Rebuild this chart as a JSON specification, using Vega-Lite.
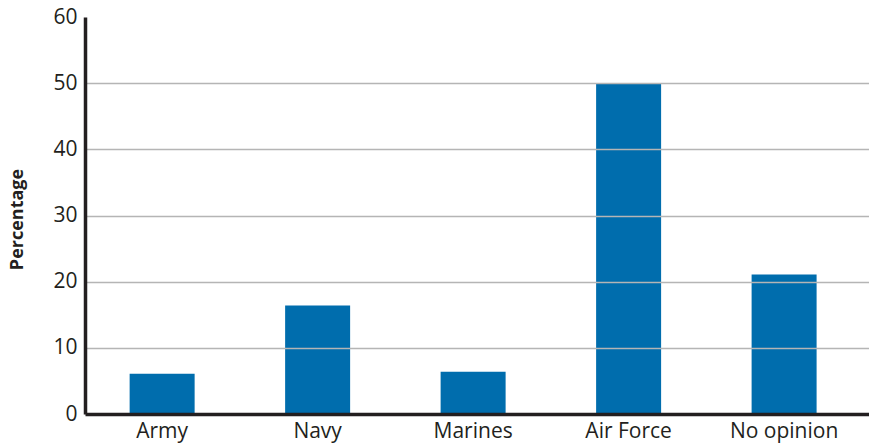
{
  "$schema": "https://vega.github.io/schema/vega-lite/v6.json",
  "width": 784,
  "height": 397,
  "autosize": {"type": "none"},
  "padding": {"left": 85, "top": 17, "right": 0, "bottom": 31},
  "background": "white",
  "config": {
    "view": {"stroke": null},
    "font": "Open Sans",
    "axis": {"labelFont": "Open Sans", "titleFont": "Open Sans", "labelColor": "#231f20", "titleColor": "#231f20"}
  },
  "data": {
    "values": [
      {"branch": "Army", "pct": 6.1},
      {"branch": "Navy", "pct": 16.4},
      {"branch": "Marines", "pct": 6.4},
      {"branch": "Air Force", "pct": 50.0},
      {"branch": "No opinion", "pct": 21.1}
    ]
  },
  "mark": {"type": "bar", "color": "#006dad"},
  "encoding": {
    "x": {
      "field": "branch",
      "type": "nominal",
      "sort": null,
      "scale": {"paddingInner": 0.582, "paddingOuter": 0.312, "align": 0.46},
      "axis": {
        "title": null,
        "labelAngle": 0,
        "labelFontSize": 21,
        "labelPadding": 6,
        "ticks": false,
        "domainColor": "#231f20",
        "domainWidth": 3.5,
        "zindex": 2
      }
    },
    "y": {
      "field": "pct",
      "type": "quantitative",
      "scale": {"domain": [0, 60], "nice": false},
      "axis": {
        "title": "Percentage",
        "titleFontSize": 18,
        "titleFontWeight": "bold",
        "titleAngle": -90,
        "titleX": -68,
        "titleY": 202,
        "titleAlign": "center",
        "titleBaseline": "middle",
        "values": [0, 10, 20, 30, 40, 50, 60],
        "labelFontSize": 21,
        "labelPadding": 8,
        "ticks": false,
        "domainColor": "#231f20",
        "domainWidth": 3.5,
        "grid": true,
        "gridColor": "#b5b5b5",
        "gridWidth": 1.5,
        "gridOpacity": {"condition": {"test": "datum.value == 0 || datum.value == 60", "value": 0}, "value": 1},
        "zindex": 2
      }
    }
  }
}
